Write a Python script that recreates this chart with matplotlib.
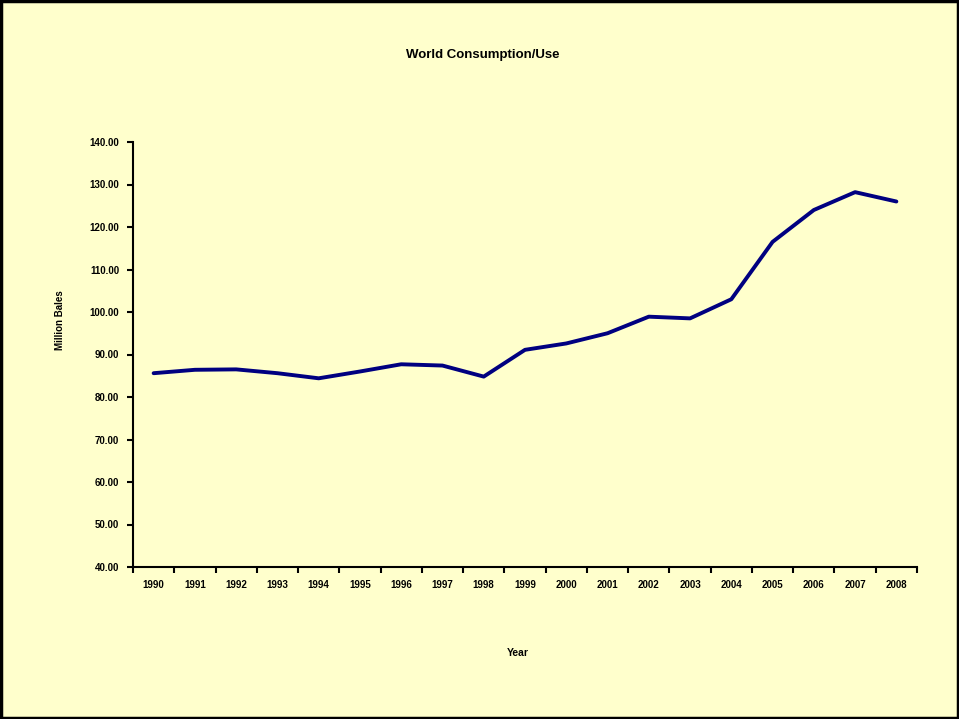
import matplotlib.pyplot as plt
import numpy as np
from matplotlib.patches import Rectangle

plt.rcParams['font.family'] = ['Liberation Sans', 'DejaVu Sans']

years = [str(y) for y in range(1990, 2009)]
consumption = [85.6, 86.4, 86.5, 85.6, 84.4, 86.0, 87.7, 87.4, 84.8, 91.1,
               92.6, 95.0, 98.9, 98.5, 103.0, 116.5, 124.0, 128.2, 126.0]
yticks = np.arange(40, 141, 10)

bg = '#FFFFCC'
fig = plt.figure(figsize=(9.59, 7.19), dpi=100, facecolor=bg)
ax = fig.add_axes([133/959, (719-567)/719, (917-133)/959, (567-142)/719])
ax.set_facecolor(bg)

x = np.arange(len(years)) + 0.5
ax.plot(x, consumption, color='#000080', linewidth=2.8, solid_capstyle='round')

ax.set_xlim(0, len(years))
ax.set_ylim(40, 140)
ax.set_yticks(yticks)
ax.set_yticklabels(['%.2f' % v for v in yticks], fontsize=7, fontweight='bold')
ax.set_xticks(np.arange(len(years) + 1))
ax.set_xticklabels([])
ax.set_xticks(x, minor=True)
ax.set_xticklabels(years, minor=True, fontsize=7, fontweight='bold')
ax.tick_params(axis='x', which='minor', length=0, pad=9)
ax.tick_params(axis='both', which='major', length=4, width=1.5, color='black')
ax.tick_params(axis='y', pad=6)

for s in ['top', 'right']:
    ax.spines[s].set_visible(False)
for s in ['left', 'bottom']:
    ax.spines[s].set_linewidth(1.5)

fig.text(483/959, 1 - 55/719, 'World Consumption/Use', ha='center', va='center',
         fontsize=9.5, fontweight='bold')
fig.text(60/959, 1 - 320/719, 'Million Bales', ha='center', va='center',
         rotation=90, fontsize=7, fontweight='bold')
fig.text(518/959, 1 - 653/719, 'Year', ha='center', va='center',
         fontsize=7.5, fontweight='bold')

fig.patches.append(Rectangle((0.0015, 0.002), 0.997, 0.996, transform=fig.transFigure,
                             fill=False, edgecolor='black', linewidth=2.5))

fig.savefig('out.png', dpi=100, facecolor=bg)
